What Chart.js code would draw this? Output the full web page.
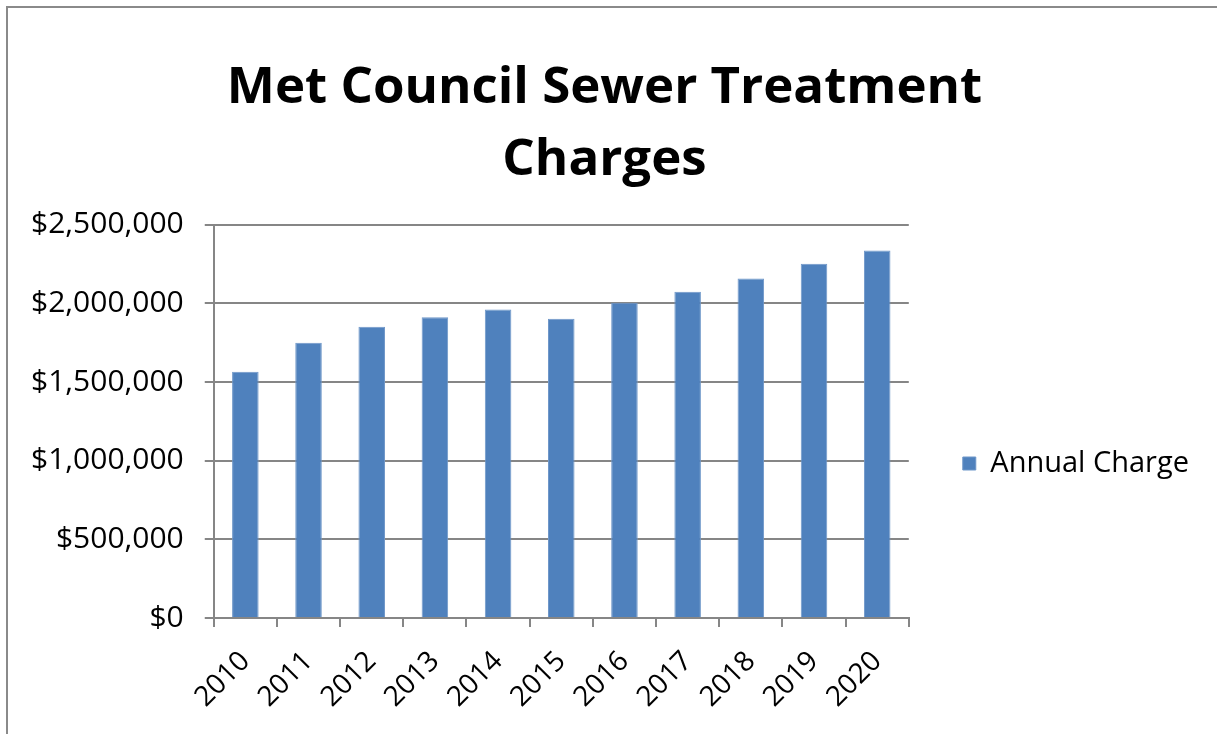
<!DOCTYPE html>
<html>
<head>
<meta charset="utf-8">
<script src="https://cdn.jsdelivr.net/npm/chart.js@4.4.0/dist/chart.umd.min.js"></script>
<style>
    body { margin: 0; background: #fff; }
    #wrap { position: relative; width: 1217px; height: 734px; }
    #frame {
        position: absolute; left: 6px; top: 6px; right: 0; bottom: 0;
        border-top: 2px solid #8a8a8a; border-left: 2px solid #8a8a8a;
        pointer-events: none;
    }
</style>
</head>
<body>
<div id="wrap">
    <canvas id="chart" width="1217" height="734"></canvas>
    <div id="frame"></div>
</div>
<script>
const years = ['2010', '2011', '2012', '2013', '2014', '2015', '2016', '2017', '2018', '2019', '2020'];
const annualCharge = [1565000, 1750000, 1852000, 1912000, 1962000, 1902000, 2004000, 2075000, 2158000, 2252000, 2336000];
const yTicks = [0, 500000, 1000000, 1500000, 2000000, 2500000];

const font = "'Open Sans', sans-serif";

const ctx = document.getElementById('chart').getContext('2d');
new Chart(ctx, {
    type: 'bar',
    data: {
        labels: years,
        datasets: [{
            label: 'Annual Charge',
            data: annualCharge,
            backgroundColor: '#4f81bd',
            borderColor: '#6f97c9',
            borderWidth: 1,
            barPercentage: 0.42,
            categoryPercentage: 1
        }]
    },
    options: {
        responsive: false,
        animation: false,
        layout: { padding: { left: 10, right: 18, top: 53, bottom: 2 } },
        plugins: {
            title: {
                display: true,
                text: ['Met Council Sewer Treatment', 'Charges'],
                color: '#000',
                font: { family: font, size: 51, weight: 'bold', lineHeight: 1.41 },
                padding: { top: 0, bottom: 28 }
            },
            legend: {
                position: 'right',
                // empty title only pushes the single entry down to where Excel puts it
                title: { display: true, text: ' ', font: { size: 10 }, padding: { top: 130, bottom: 0 } },
                labels: {
                    color: '#000',
                    font: { family: font, size: 29 },
                    boxWidth: 13,
                    boxHeight: 13,
                    padding: 54
                }
            },
            tooltip: { enabled: false }
        },
        scales: {
            x: {
                grid: { offset: true, drawOnChartArea: false, drawTicks: true, tickLength: 9, color: '#868686', lineWidth: 2 },
                border: { color: '#868686', width: 2 },
                ticks: { color: '#000', font: { family: font, size: 28 }, maxRotation: 45, minRotation: 45, padding: 18 }
            },
            y: {
                min: 0,
                max: 2500000,
                afterBuildTicks: axis => { axis.ticks = yTicks.map(v => ({ value: v })); },
                grid: { color: '#868686', lineWidth: 2, tickLength: 9 },
                border: { color: '#868686', width: 2 },
                ticks: {
                    color: '#000',
                    font: { family: font, size: 30 },
                    padding: 21,
                    callback: v => '$' + v.toLocaleString('en-US')
                }
            }
        }
    }
});
</script>
</body>
</html>
